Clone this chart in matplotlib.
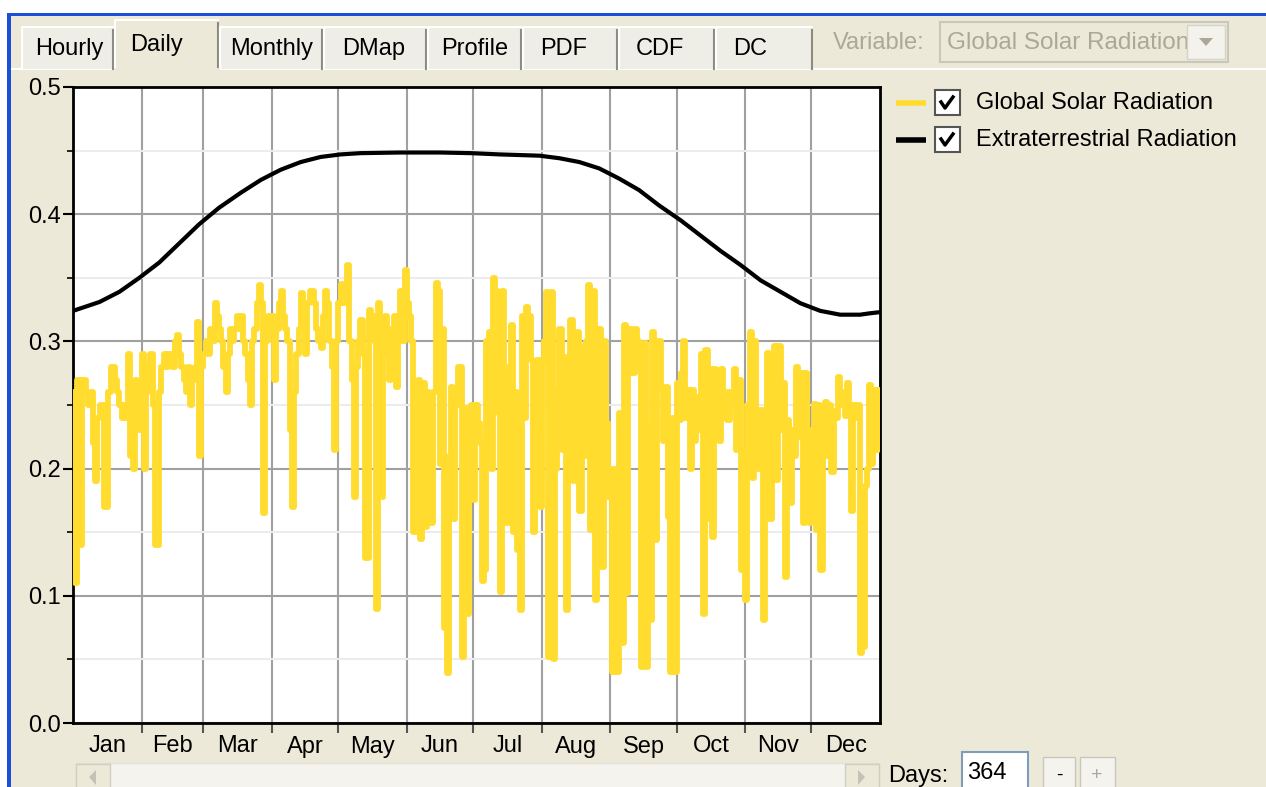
import numpy as np
import matplotlib.pyplot as plt
from matplotlib.patches import Rectangle, Polygon

plt.rcParams['font.family'] = ['Liberation Sans', 'DejaVu Sans']

# --- data ---
months = ['Jan', 'Feb', 'Mar', 'Apr', 'May', 'Jun',
          'Jul', 'Aug', 'Sep', 'Oct', 'Nov', 'Dec']
month_days = [31, 28, 31, 30, 31, 30, 31, 31, 30, 31, 30, 31]

# daily global solar radiation, one list per month
gsr_jan = [0.26, 0.11, 0.27, 0.14, 0.27, 0.27, 0.26, 0.25, 0.26, 0.22, 0.19,
           0.24, 0.25, 0.25, 0.17, 0.17, 0.26, 0.28, 0.28, 0.27, 0.26, 0.25,
           0.24, 0.25, 0.24, 0.29, 0.21, 0.20, 0.27, 0.25, 0.23]
gsr_feb = [0.29, 0.20, 0.26, 0.28, 0.29, 0.25, 0.14, 0.14, 0.26, 0.28, 0.29,
           0.28, 0.29, 0.29, 0.28, 0.30, 0.305, 0.29, 0.28, 0.27, 0.26, 0.28,
           0.25, 0.27, 0.28, 0.315, 0.21, 0.28]
gsr_mar = [0.29, 0.30, 0.29, 0.31, 0.30, 0.33, 0.32, 0.31, 0.30, 0.28, 0.26,
           0.29, 0.31, 0.30, 0.31, 0.32, 0.31, 0.32, 0.30, 0.29, 0.27, 0.25,
           0.30, 0.31, 0.33, 0.344, 0.33, 0.165, 0.30, 0.32, 0.31]
gsr_apr = [0.32, 0.27, 0.31, 0.33, 0.34, 0.32, 0.31, 0.30, 0.23, 0.17, 0.26,
           0.29, 0.31, 0.338, 0.32, 0.29, 0.33, 0.34, 0.34, 0.33, 0.31, 0.30,
           0.295, 0.32, 0.34, 0.33, 0.30, 0.28, 0.215, 0.30]
gsr_may = [0.33, 0.345, 0.33, 0.34, 0.36, 0.30, 0.27, 0.178, 0.28, 0.30,
           0.317, 0.29, 0.13, 0.13, 0.325, 0.32, 0.30, 0.09, 0.33, 0.178,
           0.29, 0.32, 0.30, 0.27, 0.31, 0.32, 0.264, 0.30, 0.34, 0.30, 0.356]
gsr_jun = [0.33, 0.32, 0.30, 0.15, 0.15, 0.27, 0.145, 0.267, 0.154, 0.26,
           0.25, 0.157, 0.26, 0.346, 0.34, 0.204, 0.31, 0.075, 0.039, 0.21,
           0.264, 0.16, 0.25, 0.28, 0.28, 0.052, 0.248, 0.086, 0.24, 0.25]
gsr_jul = [0.175, 0.25, 0.236, 0.22, 0.112, 0.12, 0.30, 0.307, 0.20, 0.35,
           0.34, 0.244, 0.103, 0.34, 0.28, 0.157, 0.28, 0.313, 0.15, 0.26,
           0.136, 0.089, 0.32, 0.24, 0.327, 0.32, 0.285, 0.15, 0.24, 0.285,
           0.17]
gsr_aug = [0.285, 0.30, 0.339, 0.052, 0.339, 0.05, 0.20, 0.26, 0.31, 0.215,
           0.288, 0.089, 0.25, 0.317, 0.19, 0.30, 0.307, 0.167, 0.296, 0.21,
           0.30, 0.344, 0.152, 0.34, 0.097, 0.31, 0.31, 0.123, 0.30, 0.236,
           0.178]
gsr_sep = [0.20, 0.04, 0.20, 0.04, 0.244, 0.063, 0.313, 0.102, 0.31, 0.31,
           0.275, 0.31, 0.30, 0.28, 0.044, 0.299, 0.044, 0.233, 0.081, 0.307,
           0.144, 0.30, 0.30, 0.264, 0.222, 0.264, 0.162, 0.04, 0.24, 0.04]
gsr_oct = [0.267, 0.238, 0.275, 0.30, 0.24, 0.262, 0.20, 0.262, 0.222, 0.256,
           0.23, 0.29, 0.086, 0.293, 0.16, 0.278, 0.146, 0.278, 0.27, 0.222,
           0.278, 0.24, 0.26, 0.238, 0.26, 0.25, 0.278, 0.215, 0.27, 0.12,
           0.212]
gsr_nov = [0.097, 0.25, 0.307, 0.193, 0.30, 0.246, 0.20, 0.246, 0.081, 0.24,
           0.291, 0.16, 0.29, 0.296, 0.191, 0.296, 0.23, 0.267, 0.115, 0.238,
           0.173, 0.23, 0.21, 0.28, 0.225, 0.275, 0.157, 0.275, 0.23, 0.157]
gsr_dec = [0.23, 0.251, 0.152, 0.25, 0.12, 0.24, 0.252, 0.21, 0.25, 0.197,
           0.245, 0.24, 0.272, 0.25, 0.26, 0.241, 0.267, 0.25, 0.167, 0.25,
           0.24, 0.25, 0.055, 0.06, 0.186, 0.20, 0.266, 0.204, 0.262, 0.215,
           0.262]

# extraterrestrial radiation
etr_day = [0, 12, 21, 30, 39, 48, 57, 66, 76, 85, 94, 103, 112, 121, 130,
           148, 166, 180, 193, 211, 220, 229, 238, 247, 256, 265, 275, 284,
           293, 302, 311, 320, 329, 338, 347, 356, 360, 365]
etr_val = [0.324, 0.331, 0.339, 0.350, 0.362, 0.377, 0.392, 0.405, 0.417,
           0.427, 0.435, 0.441, 0.445, 0.447, 0.448, 0.4485, 0.4485, 0.448,
           0.447, 0.446, 0.444, 0.441, 0.436, 0.428, 0.419, 0.407, 0.395,
           0.383, 0.371, 0.360, 0.348, 0.339, 0.330, 0.324, 0.321, 0.321,
           0.322, 0.323]

tab_names = ['Hourly', 'Daily', 'Monthly', 'DMap', 'Profile', 'PDF', 'CDF', 'DC']
legend_names = ['Global Solar Radiation', 'Extraterrestrial Radiation']
days_shown = '364'

gsr = (gsr_jan + gsr_feb + gsr_mar + gsr_apr + gsr_may + gsr_jun +
       gsr_jul + gsr_aug + gsr_sep + gsr_oct + gsr_nov + gsr_dec)

BG = '#ECE9D8'
YELLOW = '#FFDC2E'
W, H = 1266, 787
FS = 17

fig = plt.figure(figsize=(W / 100, H / 100), dpi=100, facecolor=BG)

# window chrome drawn in pixel coordinates
ui = fig.add_axes([0, 0, 1, 1])
ui.set_xlim(0, W)
ui.set_ylim(H, 0)
ui.axis('off')

ui.add_patch(Rectangle((0, 0), W, 13, fc='white', ec='none'))
ui.add_patch(Rectangle((0, 0), 7, H, fc='white', ec='none'))
ui.add_patch(Rectangle((7, 13), W, 3, fc='#1B4FD8', ec='none'))
ui.add_patch(Rectangle((7, 13), 4, H, fc='#1B4FD8', ec='none'))

# tab strip
ui.plot([12, W], [69, 69], color='white', lw=1.5)
tab_x = [(22, 113), (115, 218), (220, 322), (324, 426),
         (428, 521), (523, 617), (619, 714), (716, 812)]
text_x = [35, 130, 230, 342, 441, 540, 636, 733]
for name, (x0, x1), tx in zip(tab_names, tab_x, text_x):
    sel = name == 'Daily'
    y0 = 20 if sel else 27
    ui.add_patch(Rectangle((x0, y0), x1 - x0, 69 - y0,
                           fc=BG if sel else '#EFEEE6', ec='none', zorder=2))
    ui.plot([x0, x0, x1], [69, y0, y0], color='white', lw=1.5, zorder=3)
    ui.plot([x1, x1], [y0 + 3, 69], color='#8D8B80', lw=1.5, zorder=3)
    ui.text(tx, (y0 + 69) / 2 + 1, name, fontsize=FS,
            ha='left', va='center', zorder=4)
ui.plot([115, 218], [69, 69], color=BG, lw=2, zorder=3)

ui.text(833, 43, 'Variable:', fontsize=FS, color='#ACA899', va='center')
ui.add_patch(Rectangle((940, 22), 288, 40, fc=BG, ec='#C9C7BA', lw=1.5))
ui.text(947, 43, 'Global Solar Radiation', fontsize=FS + 0.5, color='#ACA899',
        va='center', zorder=2)
ui.add_patch(Rectangle((1187, 25), 38, 34, fc='#F3F2EC', ec='#D6D4C8', lw=1, zorder=3))
ui.add_patch(Polygon([[1199, 38], [1213, 38], [1206, 46]], closed=True,
                     fc='#ACA899', ec='none', zorder=4))

# legend
leg_y = [103, 140]
leg_col = [YELLOW, 'black']
for yy, col, name in zip(leg_y, leg_col, legend_names):
    ui.plot([896, 926], [yy, yy], color=col, lw=4, solid_capstyle='butt')
    ui.add_patch(Rectangle((935, yy - 13), 25, 25, fc='white', ec='#555555', lw=1.5))
    ui.plot([941, 945, 953], [yy - 1, yy + 5, yy - 6], color='black', lw=2.5)
    ui.text(976, yy, name, fontsize=FS, va='center')

# scroll bar and days box
ui.add_patch(Rectangle((76, 763), 803, 30, fc='#F4F3EE', ec='#E2E0D4', lw=1))
for bx in (76, 845):
    ui.add_patch(Rectangle((bx, 764), 34, 30, fc=BG, ec='#D0CEC2', lw=1))
ui.add_patch(Polygon([[96, 770], [96, 785], [89, 777]], closed=True, fc='#C4C2B6', ec='none'))
ui.add_patch(Polygon([[858, 770], [858, 785], [865, 777]], closed=True, fc='#C4C2B6', ec='none'))
ui.text(888, 776, 'Days:', fontsize=FS, va='center')
ui.add_patch(Rectangle((962, 752), 66, 40, fc='white', ec='#7F9DB9', lw=1.5))
ui.text(967, 773, days_shown, fontsize=FS, va='center')
ui.add_patch(Rectangle((1043, 757), 32, 35, fc='#F4F3EE', ec='#C9C7BA', lw=1))
ui.add_patch(Rectangle((1080, 757), 35, 35, fc='#F4F3EE', ec='#C9C7BA', lw=1))
ui.text(1059, 775, '-', fontsize=FS - 3, ha='center', va='center')
ui.text(1097, 775, '+', fontsize=FS - 3, ha='center', va='center', color='#ACA899')

# --- chart ---
ax = fig.add_axes([73 / W, (H - 723) / H, 807 / W, 636 / H])
ax.set_facecolor('white')

bounds = np.cumsum([0] + month_days)
mids = bounds[:-1] + np.array(month_days) / 2

ax.plot(np.arange(len(gsr)) + 0.5, gsr, color=YELLOW, lw=4.2,
        drawstyle='steps-mid', zorder=3)
ax.plot(etr_day, etr_val, color='black', lw=3, zorder=4)

ax.set_xlim(0, 365)
ax.set_ylim(0, 0.5)

ax.set_xticks(bounds[1:-1])
ax.set_xticklabels([])
ax.set_xticks(mids, minor=True)
ax.set_xticklabels(months, minor=True, fontsize=FS)
ax.tick_params(axis='x', which='major', length=7, width=1.5, color='#555555',
               direction='out')
ax.tick_params(axis='x', which='minor', length=0, pad=9)

ax.set_yticks(np.arange(0, 0.51, 0.1))
ax.set_yticklabels(['%.1f' % v for v in np.arange(0, 0.51, 0.1)], fontsize=FS)
ax.set_yticks(np.arange(0.05, 0.5, 0.1), minor=True)
ax.tick_params(axis='y', which='major', length=7, width=1.5, pad=2)
ax.tick_params(axis='y', which='minor', length=4, width=1.2)

ax.grid(which='major', color='#A0A0A0', lw=1.5, zorder=1)
ax.yaxis.grid(which='minor', color='#ECECEC', lw=1.5, zorder=1)
ax.set_axisbelow(True)
for s in ax.spines.values():
    s.set_linewidth(2)
    s.set_color('black')

fig.savefig('out.png', dpi=100, facecolor=BG)
